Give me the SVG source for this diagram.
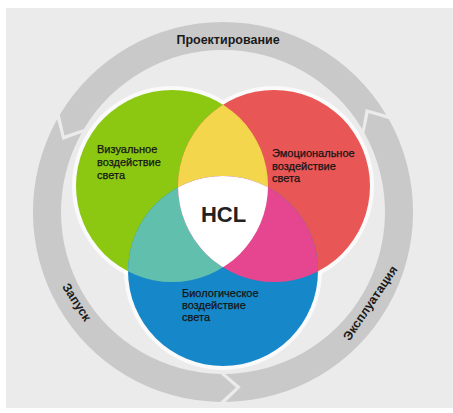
<svg xmlns="http://www.w3.org/2000/svg" width="453" height="413" viewBox="0 0 453 413">
<style>
.seg{fill:#c9c9c9}
.rl{font-family:"Liberation Sans",Arial,sans-serif;font-weight:bold;font-size:12.5px;fill:#1a1a1a;text-anchor:middle}
.lbl{font-family:"Liberation Sans",Arial,sans-serif;font-size:11px;fill:#151515;stroke:#151515;stroke-width:0.25px}
.hcl{font-family:"Liberation Sans",Arial,sans-serif;font-weight:bold;font-size:22px;fill:#222;text-anchor:middle}
</style>
<defs>
<clipPath id="cg"><circle cx="172" cy="186" r="96"/></clipPath>
<clipPath id="cr"><circle cx="274" cy="186" r="96"/></clipPath>
</defs>
<rect x="6" y="8" width="447" height="400" fill="#ebebeb"/>
<g id="connectors">
<g id="seg-design"><path class="seg" d="M386.2,114.7 A190,190 0 0 0 59.8,114.7 L64.5,135.4 L83.8,129.1 A162,162 0 0 1 362.2,129.1 L365.8,109.0 Z"/>
<text class="rl" x="228" y="43.5">Проектирование</text></g>
<g id="seg-launch"><path class="seg" d="M57.1,119.3 A190,190 0 0 0 220.3,402.0 L235.9,387.5 L220.7,374.0 A162,162 0 0 1 81.6,133.0 L62.5,139.9 Z"/>
<text class="rl" transform="translate(77,302) rotate(57)" y="4.5">Запуск</text></g>
<g id="seg-operation"><path class="seg" d="M225.65,402.0 A190,190 0 0 0 388.9,119.3 L368.6,113.1 L364.4,133.0 A162,162 0 0 1 225.3,374.0 L240.8,387.1 Z"/>
<text class="rl" transform="translate(370,303) rotate(-56)" y="4.5">Эксплуатация</text></g>
</g>
<g id="halo" fill="none" stroke="#ffffff" stroke-opacity="0.75" stroke-width="8">
<circle cx="172" cy="186" r="96"/><circle cx="274" cy="186" r="96"/><circle cx="223" cy="271" r="95"/>
</g>
<g id="visual"><circle cx="172" cy="186" r="96" fill="#8cc812"/></g>
<g id="emotional"><circle cx="274" cy="186" r="96" fill="#e85656"/></g>
<g id="biological"><circle cx="223" cy="271" r="95" fill="#1687c8"/></g>
<g id="overlaps">
<circle cx="274" cy="186" r="96" fill="#f4d64c" clip-path="url(#cg)"/>
<circle cx="223" cy="271" r="95" fill="#61bfae" clip-path="url(#cg)"/>
<circle cx="223" cy="271" r="95" fill="#e5468f" clip-path="url(#cr)"/>
<g clip-path="url(#cr)"><circle cx="223" cy="271" r="95" fill="#ffffff" clip-path="url(#cg)"/></g>
</g>
<g id="labels">
<text class="lbl" x="97" y="153">Визуальное</text>
<text class="lbl" x="97" y="166">воздействие</text>
<text class="lbl" x="97" y="179">света</text>
<text class="lbl" x="272" y="157">Эмоциональное</text>
<text class="lbl" x="272" y="169.5">воздействие</text>
<text class="lbl" x="272" y="182">света</text>
<text class="lbl" x="182" y="297">Биологическое</text>
<text class="lbl" x="182" y="309">воздействие</text>
<text class="lbl" x="182" y="321">света</text>
<text class="hcl" x="223.5" y="222">HCL</text>
</g>
</svg>
